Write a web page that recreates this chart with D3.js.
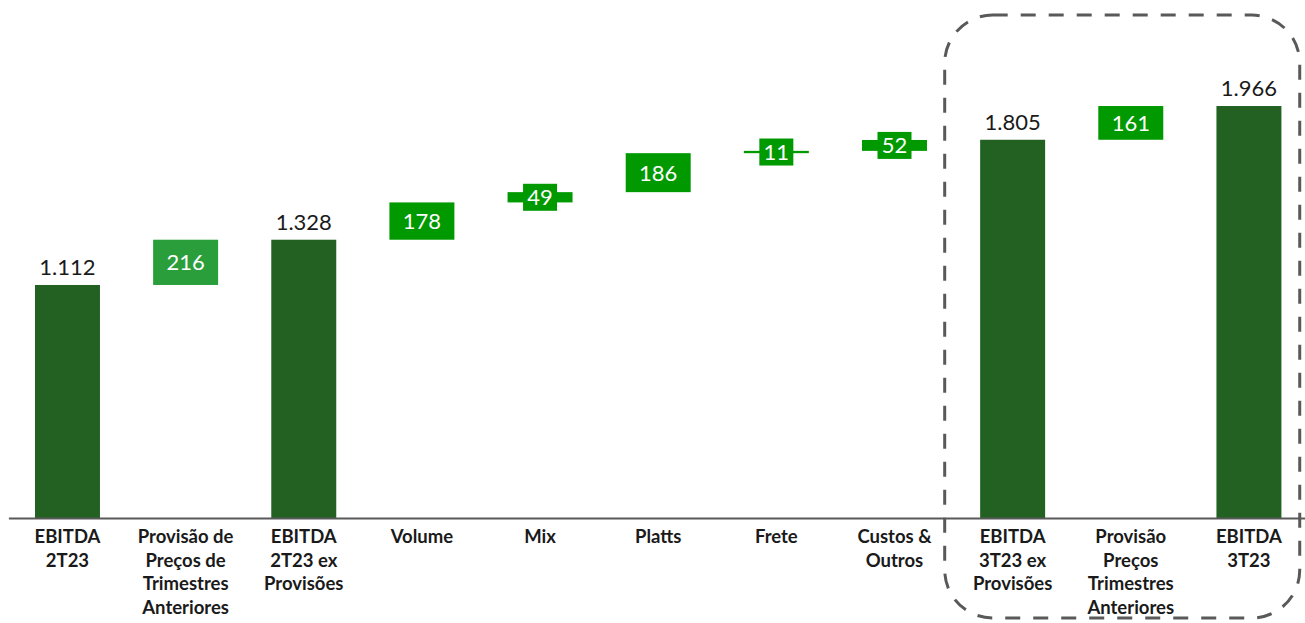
<!DOCTYPE html>
<html>
<head>
<meta charset="utf-8">
<script src="https://cdn.jsdelivr.net/npm/d3@7"></script>
<style>
  html, body { margin: 0; padding: 0; background: #fff; }
  svg { display: block; }
</style>
</head>
<body>
<div id="chart"></div>
<script>
// Ponte de EBITDA 2T23 -> 3T23 (R$ milhões)
const categorias = [
  ["EBITDA", "2T23"],
  ["Provisão de", "Preços de", "Trimestres", "Anteriores"],
  ["EBITDA", "2T23 ex", "Provisões"],
  ["Volume"],
  ["Mix"],
  ["Platts"],
  ["Frete"],
  ["Custos &", "Outros"],
  ["EBITDA", "3T23 ex", "Provisões"],
  ["Provisão", "Preços", "Trimestres", "Anteriores"],
  ["EBITDA", "3T23"]
];
const valores = [1112, 216, 1328, 178, 49, 186, 11, 52, 1805, 161, 1966];
const tipos = ["total", "ajuste", "total", "delta", "delta", "delta", "delta", "delta", "total", "delta", "total"];

const W = 1305, H = 623;
const fmt = d3.formatLocale({ decimal: ",", thousands: ".", grouping: [3], currency: ["R$", ""] }).format(",d");

// monta os degraus da cascata
let acumulado = 0;
const data = valores.map((v, i) => {
  let ini, fim;
  if (tipos[i] === "total") { ini = 0; fim = v; acumulado = v; }
  else { ini = acumulado; fim = acumulado + v; acumulado = fim; }
  return { id: i, linhas: categorias[i], valor: v, tipo: tipos[i], ini, fim };
});

const x = d3.scaleBand()
  .domain(data.map(d => d.id))
  .range([8.4, 1308])
  .paddingInner(0.45)
  .paddingOuter(0.225);

const y = d3.scaleLinear()
  .domain([0, 2000])
  .range([518, 98.9]);

const cor = d3.scaleOrdinal()
  .domain(["total", "ajuste", "delta"])
  .range(["#226122", "#2a9e3b", "#009900"]);

const svg = d3.select("#chart").append("svg")
  .attr("width", W)
  .attr("height", H)
  .style("font-family", "Lato, 'Open Sans', sans-serif");

// ==== barras ====
svg.selectAll(".barra")
  .data(data)
  .enter().append("rect")
    .attr("class", "barra")
    .attr("x", d => x(d.id))
    .attr("y", d => y(Math.max(d.ini, d.fim)))
    .attr("width", x.bandwidth())
    .attr("height", d => Math.abs(y(d.ini) - y(d.fim)))
    .attr("fill", d => cor(d.tipo));

// ==== eixo ====
const eixo = svg.append("g")
  .attr("transform", `translate(0,${y(0)})`)
  .call(d3.axisBottom(x).tickSize(0).tickFormat(""));
eixo.select(".domain").attr("stroke", "#595959").attr("stroke-width", 2);

const rotulos = svg.append("g")
  .selectAll("text")
  .data(data)
  .enter().append("text")
    .attr("x", d => x(d.id) + x.bandwidth() / 2)
    .attr("y", y(0) + 25)
    .attr("text-anchor", "middle")
    .style("font-size", "18.5px")
    .style("font-weight", "bold")
    .attr("fill", "#1a1a1a");
rotulos.selectAll("tspan")
  .data(d => d.linhas)
  .enter().append("tspan")
    .attr("x", function () { return d3.select(this.parentNode).attr("x"); })
    .attr("dy", (l, i) => i === 0 ? 0 : 23.7)
    .text(l => l);

// ==== valores dos totais (acima da barra) ====
svg.selectAll(".vtotal")
  .data(data.filter(d => d.tipo === "total"))
  .enter().append("text")
    .attr("class", "vtotal")
    .attr("x", d => x(d.id) + x.bandwidth() / 2)
    .attr("y", d => y(d.fim) - 10)
    .attr("text-anchor", "middle")
    .style("font-size", "22px")
    .attr("fill", "#1a1a1a")
    .text(d => fmt(d.valor));

// ==== valores das variações (dentro da barra ou em caixa) ====
const deltas = data.filter(d => d.tipo !== "total");
const caixaH = 27, caixaW = 34;
svg.selectAll(".caixa")
  .data(deltas.filter(d => Math.abs(y(d.ini) - y(d.fim)) < caixaH))
  .enter().append("rect")
    .attr("class", "caixa")
    .attr("x", d => x(d.id) + x.bandwidth() / 2 - caixaW / 2)
    .attr("y", d => (y(d.ini) + y(d.fim)) / 2 - caixaH / 2)
    .attr("width", caixaW)
    .attr("height", caixaH)
    .attr("fill", d => cor(d.tipo));

svg.selectAll(".vdelta")
  .data(deltas)
  .enter().append("text")
    .attr("class", "vdelta")
    .attr("x", d => x(d.id) + x.bandwidth() / 2)
    .attr("y", d => (y(d.ini) + y(d.fim)) / 2)
    .attr("dy", "0.36em")
    .attr("text-anchor", "middle")
    .style("font-size", "22px")
    .attr("fill", "#fff")
    .text(d => fmt(d.valor));

// ==== moldura tracejada do 3T23 ====
const passo = x.step();
const x0 = x(8) - passo * 0.3;
const x1 = x(10) + x.bandwidth() + passo * 0.155;
svg.append("rect")
  .attr("x", x0)
  .attr("y", y(2400))
  .attr("width", x1 - x0)
  .attr("height", H - 5 - y(2400))
  .attr("rx", 48)
  .attr("fill", "none")
  .attr("stroke", "#595959")
  .attr("stroke-width", 3)
  .attr("stroke-dasharray", "15,13");
</script>
</body>
</html>
